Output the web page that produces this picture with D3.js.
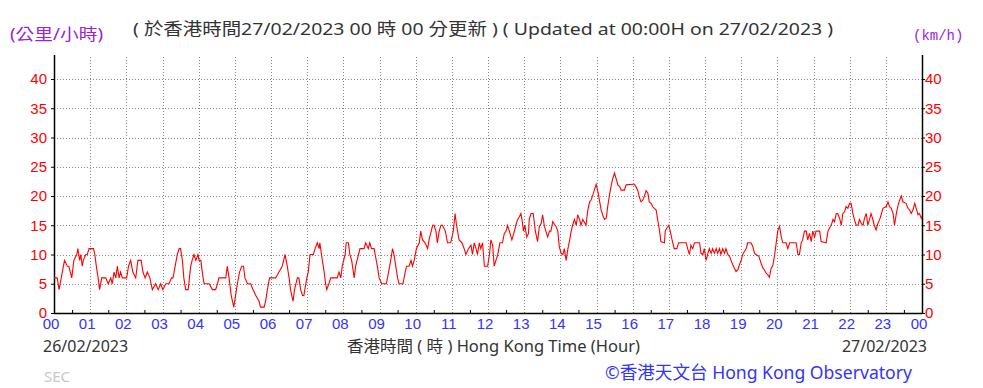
<!DOCTYPE html>
<html lang="zh-Hant">
<head>
<meta charset="utf-8">
<title>Wind speed</title>
<script src="https://cdn.jsdelivr.net/npm/d3@7"></script>
<style>
    body { margin: 0; background: #ffffff; }
    svg { display: block; }
    .txt { font-family: "Noto Sans", "Noto Sans CJK TC", sans-serif; }
</style>
</head>
<body>
<div id="chart_div"></div>
<script>
"use strict";

// time of each reading (hours since 00 on 26/02/2023)
var hours = [
    0.00, 0.09, 0.14, 0.20, 0.29, 0.37, 0.41, 0.49, 0.55, 0.63, 0.66, 0.71, 0.74, 0.78, 0.81, 0.88, 0.92, 0.97,
    1.09, 1.13, 1.17, 1.22, 1.26, 1.32, 1.43, 1.50, 1.57, 1.61, 1.66, 1.71, 1.75, 1.80, 1.84, 1.89,
    2.01, 2.06, 2.12, 2.18, 2.26, 2.32, 2.41, 2.46, 2.52, 2.58, 2.65, 2.72, 2.81, 2.88, 2.95,
    3.01, 3.09, 3.18, 3.25, 3.29, 3.35, 3.41, 3.46, 3.50, 3.55, 3.59, 3.64, 3.71, 3.78, 3.82, 3.87, 3.92, 3.98,
    4.01, 4.06, 4.10, 4.15, 4.29, 4.38, 4.47, 4.52, 4.56, 4.75, 4.79, 4.84, 4.90, 4.97,
    5.02, 5.07, 5.13, 5.19, 5.24, 5.28, 5.35, 5.44, 5.50, 5.58, 5.67, 5.71, 5.81, 5.85, 5.90, 5.96,
    6.13, 6.22, 6.31, 6.39, 6.45, 6.50, 6.54, 6.61, 6.65, 6.73, 6.77, 6.82, 6.87, 6.91, 6.99,
    7.03, 7.08, 7.17, 7.22, 7.28, 7.33, 7.35, 7.42, 7.47, 7.51, 7.54, 7.60, 7.65, 7.83, 7.88, 7.93, 7.97,
    8.05, 8.08, 8.14, 8.18, 8.23, 8.30, 8.34, 8.42, 8.46, 8.57, 8.62, 8.69, 8.73, 8.78, 8.85, 8.88, 8.94, 8.99,
    9.06, 9.19, 9.25, 9.31, 9.36, 9.40, 9.45, 9.50, 9.54, 9.65, 9.71, 9.75, 9.82, 9.87, 9.91, 9.96,
    10.02, 10.10, 10.14, 10.19, 10.26, 10.33, 10.37, 10.47, 10.51, 10.56, 10.60, 10.65, 10.70, 10.74, 10.82, 10.88, 10.97,
    11.04, 11.09, 11.13, 11.20, 11.28, 11.34, 11.39, 11.46, 11.53, 11.57, 11.62, 11.67, 11.71, 11.76, 11.80, 11.85, 11.90, 11.99,
    12.04, 12.08, 12.13, 12.17, 12.22, 12.27, 12.33, 12.40, 12.45, 12.50, 12.54, 12.59, 12.66, 12.73, 12.77, 12.82, 12.87, 12.91, 12.94, 12.98,
    13.02, 13.07, 13.12, 13.14, 13.19, 13.25, 13.31, 13.37, 13.42, 13.47, 13.51, 13.56, 13.60, 13.65, 13.70, 13.74, 13.79, 13.88, 13.93, 13.97,
    14.02, 14.07, 14.11, 14.16, 14.21, 14.25, 14.30, 14.34, 14.39, 14.44, 14.48, 14.53, 14.57, 14.62, 14.71, 14.76, 14.81, 14.85, 14.90, 14.94, 14.99,
    15.04, 15.08, 15.13, 15.17, 15.22, 15.27, 15.31, 15.36, 15.41, 15.45, 15.50, 15.54, 15.59, 15.64, 15.68, 15.77, 15.82,
    16.01, 16.05, 16.09, 16.14, 16.18, 16.23, 16.28, 16.32, 16.37, 16.42, 16.46, 16.51, 16.55, 16.60, 16.65, 16.69, 16.74, 16.78, 16.88, 16.90, 16.94,
    17.00, 17.03, 17.09, 17.15, 17.22, 17.27, 17.48, 17.52, 17.57, 17.61, 17.66, 17.71, 17.85, 17.89, 17.94, 17.98,
    18.03, 18.08, 18.12, 18.17, 18.21, 18.26, 18.31, 18.35, 18.40, 18.44, 18.49, 18.54, 18.58, 18.63, 18.68, 18.72, 18.77, 18.81, 18.86, 18.91, 18.95,
    19.00, 19.04, 19.09, 19.14, 19.18, 19.27, 19.32, 19.37, 19.41, 19.49, 19.55, 19.60, 19.64, 19.69, 19.74, 19.78, 19.83, 19.87, 19.92, 19.97,
    20.01, 20.06, 20.11, 20.15, 20.24, 20.29, 20.34, 20.52, 20.57, 20.61, 20.66, 20.70, 20.75, 20.80, 20.84, 20.89, 20.94, 20.98,
    21.03, 21.07, 21.17, 21.21, 21.35, 21.40, 21.44, 21.49, 21.54, 21.58, 21.63, 21.67, 21.72, 21.77, 21.81, 21.86, 21.90, 21.95,
    22.00, 22.04, 22.09, 22.13, 22.18, 22.23, 22.27, 22.32, 22.37, 22.41, 22.46, 22.50, 22.55, 22.59, 22.64, 22.68, 22.73, 22.78, 22.83, 22.87, 22.92,
    23.01, 23.06, 23.10, 23.15, 23.20, 23.24, 23.29, 23.33, 23.38, 23.43, 23.47, 23.56, 23.61, 23.66, 23.70, 23.75, 23.80, 23.84, 23.89, 23.93, 23.98, 24.00
];

// wind speed (km/h) at each reading
var speeds = [
    6, 6, 4, 6, 9, 8, 8, 6, 9, 10, 11, 9, 10, 8, 9, 10, 10, 11,
    11, 10, 8, 6, 4, 6, 6, 5, 6, 5, 7, 6, 8, 6, 7, 6,
    6, 8, 9, 7, 6, 9, 9, 7, 6, 7, 6, 4, 5, 4, 5,
    4, 5, 5, 6, 6, 8, 10, 11, 11, 9, 6, 4, 4, 8, 9, 10, 9, 10,
    9, 9, 7, 5, 5, 4, 4, 5, 6, 6, 8, 6, 3, 1,
    3, 5, 7, 8, 8, 6, 5, 5, 4, 3, 2, 1, 1, 2, 4, 6,
    6, 7, 8, 10, 8, 6, 4, 2, 4, 6, 6, 4, 3, 3, 6,
    7, 10, 10, 11, 12, 11, 12, 9, 7, 5, 4, 5, 6, 6, 7, 6, 8,
    10, 12, 12, 10, 9, 6, 8, 10, 11, 11, 12, 11, 12, 11, 11, 10, 8, 6,
    5, 5, 7, 9, 11, 10, 8, 6, 5, 5, 7, 8, 8, 9, 8, 9,
    11, 12, 14, 12.5, 12, 11, 12.5, 15, 15, 14, 12, 14, 15, 15, 14, 12, 12,
    14, 17, 15, 12.5, 12, 11, 10, 11, 11.6, 10, 12, 11, 10, 12, 11, 12, 8, 8,
    10, 12.5, 11.6, 8, 9, 10, 12, 12, 13.6, 14, 15, 14, 12.5, 14, 15, 16, 16.5, 17, 16, 14,
    15, 13, 13.6, 16, 17, 17, 14, 12.2, 14.8, 15.3, 16.8, 14.8, 14, 13, 14, 14, 15.6, 14.8, 14, 11.4,
    10.2, 10, 11, 9, 11, 12.2, 14, 15, 16, 15, 16.8, 16, 15, 16, 15, 17.6, 19, 19.3, 20.2, 21, 22,
    20.7, 19.3, 17.6, 16.8, 16, 16.2, 18.2, 20.2, 21.9, 23, 23.9, 23, 21.9, 21.6, 21, 21, 21.9,
    22, 22, 21.6, 21, 19.9, 19, 19.3, 19.9, 20.9, 20.5, 19, 18.75, 18.2, 17.9, 17.6, 16, 14.2, 12.2, 12, 14, 14.5,
    15, 14.2, 12.5, 11, 11, 12, 12, 11, 10, 11.6, 11, 12, 12, 10.2, 10, 11,
    9, 10.2, 11, 10.2, 11, 10.2, 11, 10.2, 11, 10, 11, 10.2, 11, 10, 9.7, 9, 8.2, 7.7, 7.1, 7.4, 8.2,
    9, 10, 10.5, 11, 12, 12, 11.4, 10.2, 10, 9.7, 8.5, 7.7, 7.4, 6.8, 6.5, 6.1, 7.7, 8, 9.7, 12,
    14, 14.8, 13, 12, 12, 11, 12, 12, 10, 10, 12, 12.5, 14, 14, 12.5, 13.6, 12.2, 14,
    13, 14, 14, 12.2, 12, 14, 14.5, 15, 16, 15.6, 17, 17, 16.2, 15, 17, 17.3, 18.2, 17.9,
    18.75, 18.75, 17, 16, 15, 15, 16, 15.3, 15, 16.2, 17, 15, 16, 17, 16, 15, 14.2, 15.3, 16, 16.8, 17.9,
    18.2, 19, 18.2, 17.9, 17, 15, 17, 18.2, 19.3, 20, 19, 18.75, 17.9, 17.6, 17, 17.6, 18.75, 17.9, 16.8, 17, 16.2, 16.5
];

var yTicks = [0, 5, 10, 15, 20, 25, 30, 35, 40];
var hourTicks = d3.range(0, 25);

var svg_width = 983;
var svg_height = 388;
var left = 54, right = 922;

var svg = d3.select("#chart_div")
    .append("svg")
    .attr("width", svg_width)
    .attr("height", svg_height);

var xscale = d3.scaleLinear().domain([0, 24]).range([left, right]);
var yscale = d3.scaleLinear().domain([0, 40]).range([313, 79]);
var top_y = 55;

// dotted grid
svg.append("g")
    .selectAll("line")
    .data(yTicks.slice(1))
    .enter()
    .append("line")
    .attr("x1", left).attr("x2", right)
    .attr("y1", function(d) { return Math.round(yscale(d)) + 0.5; })
    .attr("y2", function(d) { return Math.round(yscale(d)) + 0.5; })
    .attr("stroke", "#888888")
    .attr("stroke-dasharray", "1,2");
svg.append("g")
    .selectAll("line")
    .data(hourTicks.slice(1, 24))
    .enter()
    .append("line")
    .attr("x1", function(d) { return Math.round(xscale(d)) + 0.5; })
    .attr("x2", function(d) { return Math.round(xscale(d)) + 0.5; })
    .attr("y1", top_y + 2).attr("y2", yscale(0))
    .attr("stroke", "#888888")
    .attr("stroke-dasharray", "1,2");

// axes
var yLeft = d3.axisLeft(yscale).tickValues(yTicks).tickSize(3).tickFormat(d3.format("d"));
var yRight = d3.axisRight(yscale).tickValues(yTicks).tickSize(3).tickFormat(d3.format("d"));
var gl = svg.append("g").attr("transform", "translate(" + left + ",0)").call(yLeft);
var gr = svg.append("g").attr("transform", "translate(" + right + ",0)").call(yRight);
[gl, gr].forEach(function(g) {
    g.select(".domain").remove();
    g.selectAll("line").attr("stroke", "#000");
    g.selectAll("text")
        .attr("fill", "#ff0000")
        .style("font-family", "Liberation Sans, Arial, sans-serif")
        .style("font-size", "15px");
});
gl.selectAll("text").attr("x", -7);
gr.selectAll("text").attr("x", 3);

var xaxis = d3.axisBottom(xscale)
    .tickValues(d3.range(0.5, 24, 1))
    .tickSize(-3)
    .tickFormat("");
var gx = svg.append("g").attr("transform", "translate(0," + yscale(0) + ")").call(xaxis);
gx.select(".domain").remove();
gx.selectAll("line").attr("stroke", "#000");

svg.append("g")
    .selectAll("text")
    .data(hourTicks)
    .enter()
    .append("text")
    .attr("x", function(d) { return xscale(d) - 3; })
    .attr("y", 329)
    .attr("text-anchor", "middle")
    .attr("fill", "#3333ff")
    .style("font-family", "Liberation Sans, Arial, sans-serif")
    .style("font-size", "15px")
    .text(function(d) { return d3.format("02")(d % 24); });

// frame lines
svg.append("line").attr("x1", left).attr("x2", right)
    .attr("y1", yscale(0) + 0.5).attr("y2", yscale(0) + 0.5)
    .attr("stroke", "#000").attr("stroke-width", 1.5);
svg.append("line").attr("x1", left + 0.5).attr("x2", left + 0.5)
    .attr("y1", top_y).attr("y2", yscale(0) + 1)
    .attr("stroke", "#000").attr("stroke-width", 1.5);
svg.append("line").attr("x1", right + 0.5).attr("x2", right + 0.5)
    .attr("y1", top_y).attr("y2", yscale(0) + 1)
    .attr("stroke", "#000").attr("stroke-width", 1.5);

// wind line
var line = d3.line()
    .x(function(d, i) { return xscale(hours[i]); })
    .y(function(d) { return yscale(d); });
svg.append("path")
    .datum(speeds)
    .attr("d", line)
    .attr("fill", "none")
    .attr("stroke", "#ff0000")
    .attr("stroke-width", 1.1);

// texts
function txt(x, y, s, size, color, anchor, family, len) {
    var t = svg.append("text")
        .attr("class", "txt")
        .attr("x", x).attr("y", y)
        .attr("fill", color)
        .attr("text-anchor", anchor || "start")
        .style("font-size", size + "px")
        .style("font-family", family || null)
        .text(s);
    if (len) t.attr("textLength", len).attr("lengthAdjust", "spacingAndGlyphs");
    return t;
}
txt(10, 40, "(公里/小時)", 16, "#9a22d8", "start", null, 93);
txt(133, 35, "( 於香港時間27/02/2023 00 時 00 分更新 ) ( Updated at 00:00H on 27/02/2023 )", 17, "#333333", "start", null, 700);
txt(913, 40, "(km/h)", 14, "#9a22d8", "start", "Liberation Mono, monospace");
txt(43, 352, "26/02/2023", 16, "#333333");
txt(347, 352, "香港時間 ( 時 ) Hong Kong Time (Hour)", 16, "#333333", "start", null, 293);
txt(927, 352, "27/02/2023", 16, "#333333", "end");
txt(44, 382, "SEC", 15, "#c8c8c8");
txt(605, 379, "©香港天文台 Hong Kong Observatory", 18, "#3333ff", "start", null, 307);
</script>
</body>
</html>
